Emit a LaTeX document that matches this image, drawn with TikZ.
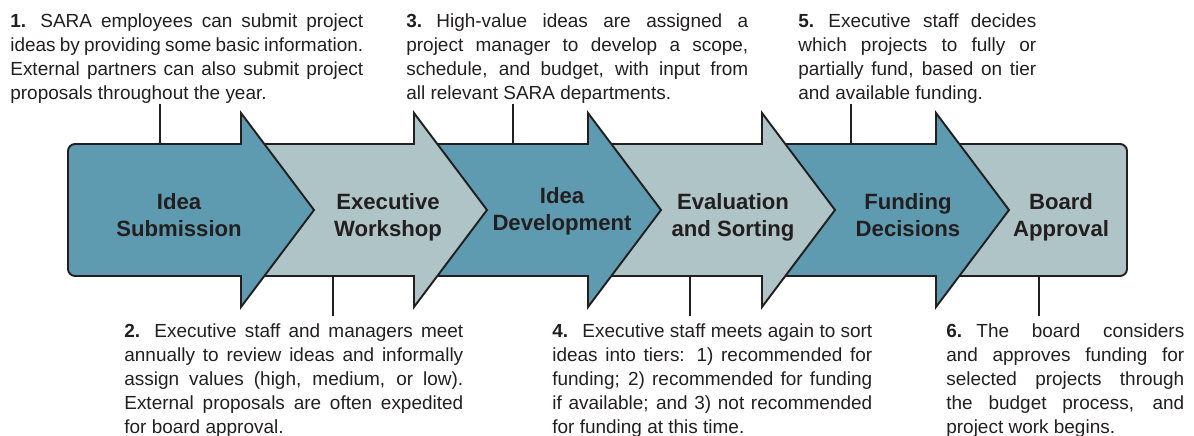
\documentclass[tikz,border=0pt]{standalone}
\usepackage{fontspec}
\setmainfont{Liberation Sans}
\usepackage{tikz}
\definecolor{fonce}{RGB}{95,155,176}
\definecolor{clair}{RGB}{175,196,198}
\definecolor{trait}{RGB}{35,31,32}
\newcommand{\demi}{66}
\newcommand{\aile}{97}
\newcommand{\pointe}{73}
\tikzstyle{bord}=[draw=trait, line width=1.1pt, join=miter]
\tikzstyle{lien}=[draw=trait, line width=0.85pt]
\tikzstyle{texte}=[anchor=north west, inner sep=0, align=justify, text=trait, font=\fontsize{10.8}{13.7}\selectfont]
\tikzstyle{etiq}=[inner sep=0, align=center, text=trait, font=\fontsize{12.6}{15.3}\selectfont\bfseries, execute at begin node=\strut, execute at end node=\strut]
\newcommand{\etape}[1]{\strut\textbf{#1.}\hspace{0.75em}}
\newcommand{\fleche}[2]{
  \begin{scope}[shift={(#1,210)}]
    \path[bord,fill=#2] (-170,-\demi) -- (0,-\demi) -- (0,-\aile) -- (\pointe,0) -- (0,\aile) -- (0,\demi) -- (-170,\demi) -- cycle;
  \end{scope}
}
\begin{document}
\begin{tikzpicture}[x=0.02cm,y=-0.02cm]
\useasboundingbox (0,0) rectangle (1194,436);

%last box
\path[bord,fill=clair] (1000,144) [rounded corners=4pt] -- (1127,144) -- (1127,276) -- (1000,276) [sharp corners] -- (940,276) -- (940,144) -- cycle;

%arrows 5 to 2
\foreach \hb/\col in {936/fonce,762/clair,588/fonce,414/clair}
  {\fleche{\hb}{\col}}

%first arrow
\path[bord,fill=fonce] (241,276) -- (150,276) [rounded corners=4pt] -- (68,276) -- (68,144) -- (150,144) [sharp corners] -- (241,144) -- (241,210-\aile) -- (241+\pointe,210) -- (241,210+\aile) -- cycle;

%labels
\node[etiq] (e1) at (179,219) {Idea\\Submission};
\node[etiq] (e2) at (388,219) {Executive\\Workshop};
\node[etiq] (e3) at (562,213) {Idea\\Development};
\node[etiq] (e4) at (733,219) {Evaluation\\and Sorting};
\node[etiq] (e5) at (908,219) {Funding\\Decisions};
\node[etiq] (e6) at (1061,219) {Board\\Approval};

%texts
\node[texte,text width=7.06cm] (t1) at (10,10) {\etape{1}SARA employees can submit project\linebreak ideas by providing some basic information.\linebreak External partners can also submit project\linebreak proposals throughout the year.};
\node[texte,text width=6.78cm] (t2) at (124,320) {\etape{2}Executive staff and managers meet\linebreak annually to review ideas and informally\linebreak assign values (high, medium, or low).\linebreak External proposals are often expedited\linebreak for board approval.};
\node[texte,text width=6.84cm] (t3) at (406,10) {\etape{3}High-value ideas are assigned a\linebreak project manager to develop a scope,\linebreak schedule, and budget, with input from\linebreak all relevant SARA departments.};
\node[texte,text width=6.4cm] (t4) at (552,320) {\etape{4}Executive staff meets again to sort\linebreak ideas into tiers: 1) recommended for\linebreak funding; 2) recommended for funding\linebreak if available; and 3) not recommended\linebreak for funding at this time.};
\node[texte,text width=4.76cm] (t5) at (798,10) {\etape{5}Executive staff decides\linebreak which projects to fully or\linebreak partially fund, based on tier\linebreak and available funding.};
\node[texte,text width=4.76cm] (t6) at (946,320) {\etape{6}The board considers\linebreak and approves funding for\linebreak selected projects through\linebreak the budget process, and\linebreak project work begins.};

%links
\coordinate (c1) at (160,144);
\coordinate (c3) at (513,144);
\coordinate (c5) at (851,144);
\coordinate (c2) at (333,276);
\coordinate (c4) at (690,276);
\coordinate (c6) at (1039,276);
\foreach \i in {1,3,5}
  \draw[lien] (t\i.south -| c\i) -- (c\i);
\foreach \i in {2,4,6}
  \draw[lien,shorten >=2.5pt] (c\i) -- (t\i.north -| c\i);

\end{tikzpicture}
\end{document}
